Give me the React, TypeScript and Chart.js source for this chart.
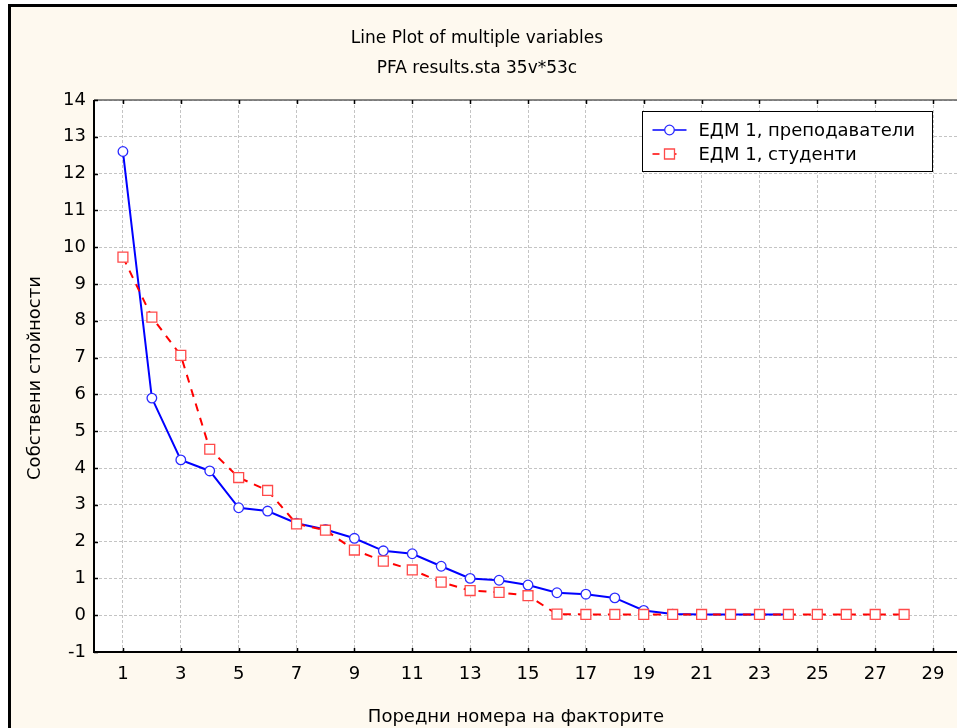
import React, { useEffect, useRef } from "react";
import { Chart, registerables } from "chart.js";

Chart.register(...registerables);

const TITLE = "Line Plot of multiple variables";
const SUBTITLE = "PFA results.sta 35v*53c";
const X_TITLE = "Поредни номера на факторите";
const Y_TITLE = "Собствени стойности";

const factors = [1, 2, 3, 4, 5, 6, 7, 8, 9, 10, 11, 12, 13, 14, 15, 16, 17, 18, 19, 20, 21, 22, 23, 24, 25, 26, 27, 28];
const teachersLabel = "ЕДМ 1, преподаватели";
const teachers = [12.6, 5.9, 4.22, 3.92, 2.92, 2.83, 2.5, 2.33, 2.09, 1.75, 1.67, 1.33, 1.0, 0.95, 0.82, 0.61, 0.57, 0.47, 0.13, 0.03, 0.02, 0.02, 0.02, 0.02];
const studentsLabel = "ЕДМ 1, студенти";
const students = [9.73, 8.1, 7.06, 4.51, 3.74, 3.39, 2.48, 2.31, 1.77, 1.47, 1.23, 0.9, 0.67, 0.62, 0.53, 0.03, 0.02, 0.02, 0.02, 0.02, 0.02, 0.02, 0.02, 0.02, 0.02, 0.02, 0.02, 0.02];

const xTicks = [1, 3, 5, 7, 9, 11, 13, 15, 17, 19, 21, 23, 25, 27, 29];
const yTicks = [-1, 0, 1, 2, 3, 4, 5, 6, 7, 8, 9, 10, 11, 12, 13, 14];

const CW = 1000;
const CH = 728;
const FONT = "DejaVu Sans";
const CREAM = "#fef9ef";

const framePlugin = {
  id: "frame",
  beforeDraw(chart: any) {
    const { ctx, chartArea: ca } = chart;
    ctx.save();
    ctx.fillStyle = "#ffffff";
    ctx.fillRect(0, 0, chart.width, chart.height);
    ctx.fillStyle = CREAM;
    ctx.fillRect(8, 4, chart.width, chart.height);
    ctx.strokeStyle = "#000000";
    ctx.lineWidth = 3;
    ctx.beginPath();
    ctx.moveTo(9.5, chart.height);
    ctx.lineTo(9.5, 5.5);
    ctx.lineTo(chart.width, 5.5);
    ctx.stroke();
    ctx.fillStyle = "#ffffff";
    ctx.fillRect(ca.left, ca.top, ca.right - ca.left, ca.bottom - ca.top);
    ctx.restore();
  },
  afterDraw(chart: any) {
    const { ctx, chartArea: ca, scales } = chart;
    const xs = scales.x;
    const ys = scales.y;
    ctx.save();
    // axes
    ctx.strokeStyle = "#606060";
    ctx.lineWidth = 1.5;
    ctx.beginPath();
    ctx.moveTo(ca.left, ca.top);
    ctx.lineTo(ca.right, ca.top);
    ctx.stroke();
    ctx.strokeStyle = "#000000";
    ctx.lineWidth = 2;
    ctx.beginPath();
    ctx.moveTo(ca.left, ca.top);
    ctx.lineTo(ca.left, ca.bottom);
    ctx.lineTo(ca.right, ca.bottom);
    ctx.stroke();
    // inward ticks
    ctx.lineWidth = 1.5;
    ctx.beginPath();
    for (const v of yTicks) {
      const y = Math.round(ys.getPixelForValue(v)) + 0.5;
      ctx.moveTo(ca.left, y);
      ctx.lineTo(ca.left + 4, y);
    }
    for (const v of xTicks) {
      const x = Math.round(xs.getPixelForValue(v)) + 0.5;
      ctx.moveTo(x, ca.bottom);
      ctx.lineTo(x, ca.bottom - 4);
      ctx.moveTo(x, ca.top);
      ctx.lineTo(x, ca.top + 4);
    }
    ctx.stroke();

    // titles
    ctx.fillStyle = "#000000";
    ctx.textAlign = "center";
    ctx.textBaseline = "middle";
    ctx.font = `17px "${FONT}"`;
    ctx.fillText(TITLE, 477, 38.5);
    ctx.fillText(SUBTITLE, 477, 68.5);
    ctx.font = `18px "${FONT}"`;
    ctx.fillText(X_TITLE, 516, 717);
    ctx.save();
    ctx.translate(35, (ca.top + ca.bottom) / 2 + 2);
    ctx.rotate(-Math.PI / 2);
    ctx.fillText(Y_TITLE, 0, 0);
    ctx.restore();

    // legend
    const bx = ca.right - 319.5;
    const by = ca.top + 11.5;
    const bw = 290;
    const bh = 60;
    ctx.fillStyle = "#ffffff";
    ctx.fillRect(bx, by, bw, bh);
    ctx.strokeStyle = "#000000";
    ctx.lineWidth = 1;
    ctx.strokeRect(bx, by, bw, bh);
    const rows = [by + 18.5, by + 42.5];
    chart.data.datasets.forEach((ds: any, i: number) => {
      const ry = rows[i];
      ctx.strokeStyle = ds.borderColor;
      ctx.lineWidth = 1.5;
      ctx.setLineDash(ds.borderDash && ds.borderDash.length ? [7, 10] : []);
      ctx.beginPath();
      ctx.moveTo(bx + 10, ry);
      ctx.lineTo(bx + 44, ry);
      ctx.stroke();
      ctx.setLineDash([]);
      ctx.fillStyle = "#ffffff";
      ctx.strokeStyle = ds.pointBorderColor;
      ctx.lineWidth = 1.3;
      const mx = bx + 27;
      ctx.beginPath();
      if (ds.pointStyle === "rect") {
        ctx.rect(mx - 5, ry - 5, 10, 10);
      } else {
        ctx.arc(mx, ry, 4.8, 0, Math.PI * 2);
      }
      ctx.fill();
      ctx.stroke();
      ctx.fillStyle = "#000000";
      ctx.textAlign = "left";
      ctx.textBaseline = "middle";
      ctx.font = `18px "${FONT}"`;
      ctx.fillText(ds.label, bx + 56, ry + 1);
    });
    ctx.restore();
  },
};

export default function App() {
  const ref = useRef<HTMLCanvasElement | null>(null);

  useEffect(() => {
    const canvas = ref.current;
    if (!canvas) return;
    document.body.style.overflow = "hidden";
    const chart = new Chart(canvas, {
      type: "line",
      data: {
        datasets: [
          {
            label: teachersLabel,
            data: teachers.map((v, i) => ({ x: factors[i], y: v })),
            borderColor: "#0000ff",
            borderWidth: 2,
            pointStyle: "circle",
            pointRadius: 4.8,
            pointBorderWidth: 1.3,
            pointBorderColor: "#2a2aff",
            pointBackgroundColor: "#ffffff",
            tension: 0,
            order: 1,
          },
          {
            label: studentsLabel,
            data: students.map((v, i) => ({ x: factors[i], y: v })),
            borderColor: "#ff0000",
            borderWidth: 2,
            borderDash: [8, 7],
            pointStyle: "rect",
            pointRadius: 7,
            pointBorderWidth: 1.3,
            pointBorderColor: "#ff4a4a",
            pointBackgroundColor: "#ffffff",
            tension: 0,
            order: 0,
          },
        ],
      },
      options: {
        animation: false,
        responsive: false,
        devicePixelRatio: 1,
        layout: { padding: { left: 0, right: 38, top: 100, bottom: 0 } },
        plugins: {
          legend: { display: false },
          title: { display: false },
          tooltip: { enabled: false },
        },
        scales: {
          x: {
            type: "linear",
            min: 0,
            max: 30,
            afterFit: (s: any) => {
              s.height = 76;
            },
            afterBuildTicks: (s: any) => {
              s.ticks = xTicks.map((v) => ({ value: v }));
            },
            ticks: {
              autoSkip: false,
              maxRotation: 0,
              padding: 12,
              color: "#000000",
              font: { family: FONT, size: 18 },
              callback: (v: any) => String(v),
            },
            grid: { color: "#c4c4c4", lineWidth: 1, drawTicks: false },
            border: { display: false, dash: [3, 2] },
          },
          y: {
            type: "linear",
            min: -1,
            max: 14,
            afterFit: (s: any) => {
              s.width = 94;
            },
            afterBuildTicks: (s: any) => {
              s.ticks = yTicks.map((v) => ({ value: v }));
            },
            ticks: {
              autoSkip: false,
              padding: 8,
              color: "#000000",
              font: { family: FONT, size: 18 },
              callback: (v: any) => String(v),
            },
            grid: { color: "#c4c4c4", lineWidth: 1, drawTicks: false },
            border: { display: false, dash: [3, 2] },
          },
        },
      },
      plugins: [framePlugin],
    });
    return () => chart.destroy();
  }, []);

  return (
    <div style={{ position: "fixed", left: 0, top: 0, width: 957, height: 728, overflow: "hidden" }}>
      <canvas ref={ref} width={CW} height={CH} style={{ width: CW, height: CH, display: "block" }} />
    </div>
  );
}
